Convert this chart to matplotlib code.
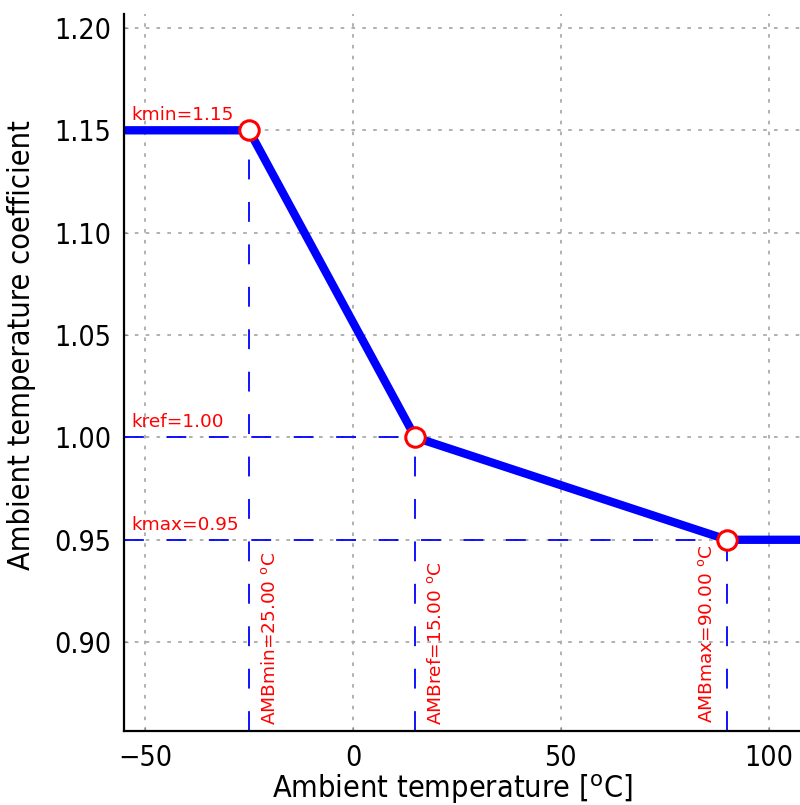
import matplotlib
matplotlib.use("Agg")
import matplotlib.pyplot as plt

# breakpoints of the ambient temperature coefficient curve
amb_min, amb_ref, amb_max = -25.0, 15.0, 90.0
k_min, k_ref, k_max = 1.15, 1.00, 0.95
curve_x = [-56.0, amb_min, amb_ref, amb_max, 110.0]
curve_y = [k_min, k_min, k_ref, k_max, k_max]
point_x = [amb_min, amb_ref, amb_max]
point_y = [k_min, k_ref, k_max]
x_ticks = [-50, 0, 50, 100]
y_ticks = [0.90, 0.95, 1.00, 1.05, 1.10, 1.15, 1.20]

xlim = (-55.05, 107.5)
ylim = (0.8566, 1.2068)

fig = plt.figure(figsize=(8.0, 8.05), dpi=100)
ax = fig.add_axes([124 / 800, 1 - 731 / 805, 1 - 124 / 800, (731 - 14) / 805])

ax.grid(True, color="#aaaaaa", linestyle=(0, (2, 4)), linewidth=1.3)
ax.set_axisbelow(True)

dash = (0, (11, 12.5))
ax.plot([amb_min, amb_min], [ylim[0], k_min], color="blue", lw=1.3, linestyle=dash)
ax.plot([amb_ref, amb_ref], [ylim[0], k_ref], color="blue", lw=1.3, linestyle=dash)
ax.plot([amb_max, amb_max], [ylim[0], k_max], color="blue", lw=1.3, linestyle=dash)
ax.plot([xlim[0], amb_ref], [k_ref, k_ref], color="blue", lw=1.3, linestyle=dash)
ax.plot([xlim[0], amb_max], [k_max, k_max], color="blue", lw=1.3, linestyle=dash)

ax.plot(curve_x, curve_y, color="blue", lw=6, solid_capstyle="butt")
ax.plot(point_x, point_y, "o", ms=14, mfc="white", mec="red", mew=2.2, zorder=5)

red = dict(color="red", fontsize=13.3)
ax.text(-53.3, k_min + 0.003, "kmin=%.2f" % k_min, ha="left", va="bottom", **red)
ax.text(-53.3, k_ref + 0.003, "kref=%.2f" % k_ref, ha="left", va="bottom", **red)
ax.text(-53.3, k_max + 0.003, "kmax=%.2f" % k_max, ha="left", va="bottom", **red)
ax.text(amb_min + 3.0, ylim[0] + 0.003, "AMBmin=%.2f $^{\\rm o}$C" % abs(amb_min),
        rotation=90, ha="left", va="bottom", **red)
ax.text(amb_ref + 2.7, ylim[0] + 0.003, "AMBref=%.2f $^{\\rm o}$C" % amb_ref,
        rotation=90, ha="left", va="bottom", **red)
ax.text(amb_max - 2.8, ylim[0] + 0.004, "AMBmax=%.2f $^{\\rm o}$C" % amb_max,
        rotation=90, ha="right", va="bottom", **red)

ax.set_xlim(*xlim)
ax.set_ylim(*ylim)
ax.set_xticks(x_ticks)
ax.set_yticks(y_ticks)
ax.set_yticklabels(["%.2f" % v for v in y_ticks])
ax.tick_params(direction="in", length=3, width=0.8, color="#888888",
               labelsize=20.5, pad=9)
for lab in ax.get_xticklabels() + ax.get_yticklabels():
    lab.set_fontstretch("condensed")

ax.set_xlabel("Ambient temperature [$^{\\rm o}$C]", fontsize=22, fontstretch="condensed",
              labelpad=0)
ax.set_ylabel("Ambient temperature coefficient", fontsize=22, fontstretch="condensed",
              labelpad=13)
ax.xaxis.label.set_x(0.485)
ax.yaxis.label.set_y(0.538)

for side in ["top", "right"]:
    ax.spines[side].set_visible(False)
for side in ["left", "bottom"]:
    ax.spines[side].set_linewidth(1.6)

fig.savefig("out.png", dpi=100)
